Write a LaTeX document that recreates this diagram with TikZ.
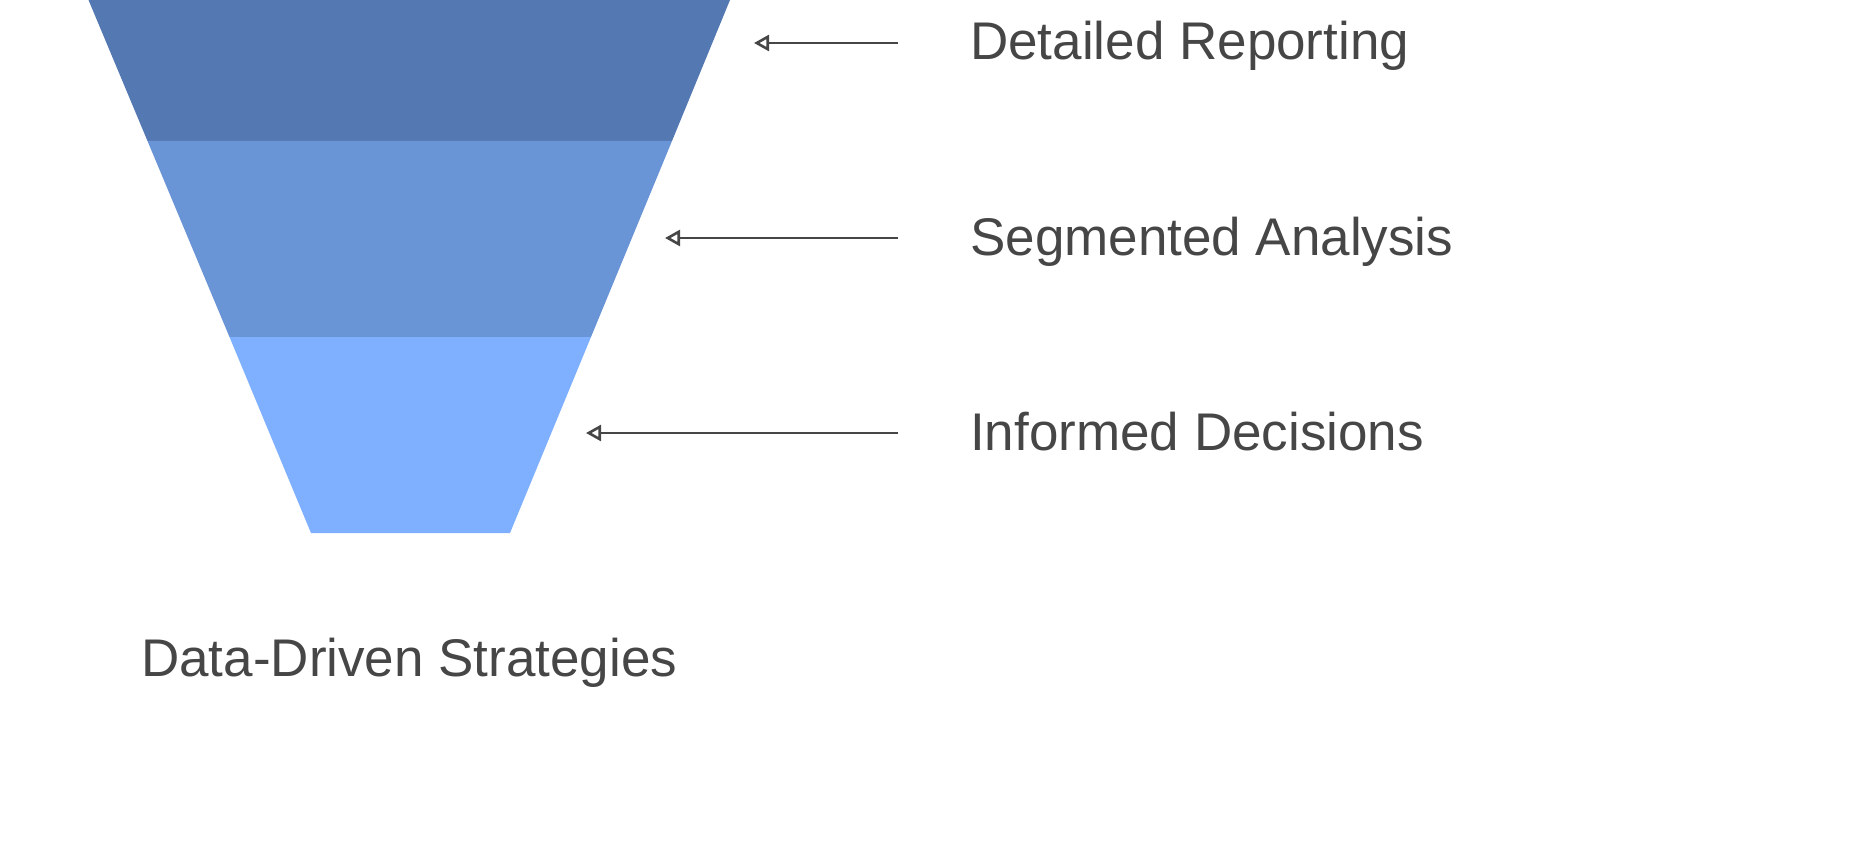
\documentclass[tikz,border=0pt]{standalone}
\usepackage{fontspec}
\setmainfont{Liberation Sans}
\usetikzlibrary{arrows.meta}
\definecolor{bandA}{HTML}{5478B2}
\definecolor{bandB}{HTML}{6994D6}
\definecolor{bandC}{HTML}{7FAFFF}
\definecolor{ink}{HTML}{464646}
\tikzset{
  lbl/.style={anchor=base west, inner sep=0pt, text=ink, font=\fontsize{53}{60}\selectfont},
  arr/.style={draw=ink, line width=2.6pt, -{Triangle[open, length=15pt, width=16pt, line width=2.6pt]}},
}
\begin{document}
\begin{tikzpicture}[x=1pt, y=-1pt]
\useasboundingbox (0,0) rectangle (1876,856);
% funnel bands
\fill[bandA] (88.5,0) -- (730,0) -- (672,141) -- (147.5,141) -- cycle;
\fill[bandB] (147.5,141) -- (672,141) -- (591,337) -- (229.5,337) -- cycle;
\fill[bandC] (229.5,337) -- (591,337) -- (510,533) -- (311,533) -- cycle;
% arrows
\coordinate (s1) at (898,43);  \coordinate (e1) at (754,43);
\coordinate (s2) at (898,238); \coordinate (e2) at (665,238);
\coordinate (s3) at (898,433); \coordinate (e3) at (586,433);
\draw[arr] (s1) -- (e1);
\draw[arr] (s2) -- (e2);
\draw[arr] (s3) -- (e3);
% labels
\node[lbl] (t1) at (970,60) {Detailed Reporting};
\node[lbl] (t2) at (970,255) {Segmented Analysis};
\node[lbl] (t3) at (970,450) {Informed Decisions};
\node[lbl] (t4) at (141,676) {Data-Driven Strategies};
\end{tikzpicture}
\end{document}
